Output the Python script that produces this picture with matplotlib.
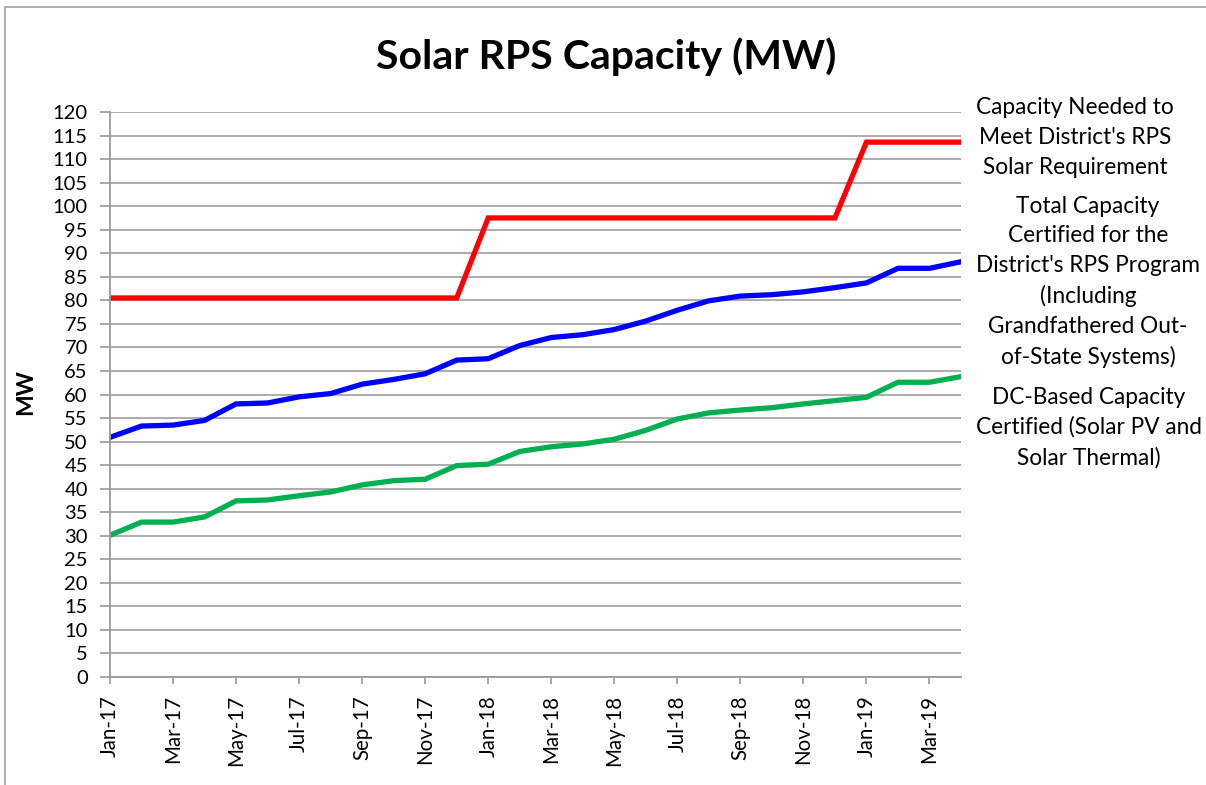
import matplotlib
matplotlib.use("Agg")
import matplotlib.pyplot as plt
from matplotlib.patches import Rectangle

plt.rcParams['font.family'] = ['Lato', 'DejaVu Sans']

months = ["Jan-17", "Feb-17", "Mar-17", "Apr-17", "May-17", "Jun-17", "Jul-17", "Aug-17",
          "Sep-17", "Oct-17", "Nov-17", "Dec-17", "Jan-18", "Feb-18", "Mar-18", "Apr-18",
          "May-18", "Jun-18", "Jul-18", "Aug-18", "Sep-18", "Oct-18", "Nov-18", "Dec-18",
          "Jan-19", "Feb-19", "Mar-19", "Apr-19"]

needed = [80.5, 80.5, 80.5, 80.5, 80.5, 80.5, 80.5, 80.5, 80.5, 80.5, 80.5, 80.5,
          97.5, 97.5, 97.5, 97.5, 97.5, 97.5, 97.5, 97.5, 97.5, 97.5, 97.5, 97.5,
          113.6, 113.6, 113.6, 113.6]

total = [50.9, 53.3, 53.5, 54.5, 58.0, 58.2, 59.5, 60.2, 62.2, 63.2, 64.4, 67.3,
         67.6, 70.4, 72.1, 72.7, 73.8, 75.6, 77.9, 79.9, 80.9, 81.2, 81.8, 82.7,
         83.7, 86.8, 86.8, 88.2]

dc_based = [30.1, 32.9, 32.9, 34.0, 37.4, 37.6, 38.5, 39.3, 40.8, 41.7, 42.0, 44.9,
            45.2, 47.9, 48.9, 49.5, 50.5, 52.4, 54.8, 56.1, 56.7, 57.2, 58.0, 58.7,
            59.4, 62.6, 62.6, 63.8]

labels = ["Capacity Needed to\nMeet District's RPS\nSolar Requirement",
          "Total Capacity\nCertified for the\nDistrict's RPS Program\n(Including\nGrandfathered Out-\nof-State Systems)",
          "DC-Based Capacity\nCertified (Solar PV and\nSolar Thermal)"]

colors = ["#FF0000", "#0000FF", "#00B050"]

W, H = 1206, 785
fig = plt.figure(figsize=(W / 100, H / 100), dpi=100)
ax = fig.add_axes([110 / W, 1 - 677 / H, (961 - 110) / W, (677 - 112) / H])

x = list(range(len(months)))
handles = []
for series, c, lab in zip([needed, total, dc_based], colors, labels):
    h, = ax.plot(x, series, color=c, lw=3.8, label=lab, solid_joinstyle='miter')
    handles.append(h)

ax.set_xlim(0, len(months) - 1)
ax.set_ylim(0, 120)
ax.set_yticks(range(0, 121, 5))
ax.set_xticks(x[::2])
ax.set_xticklabels(months[::2], rotation=90, fontsize=14.8)
ax.tick_params(axis='y', labelsize=14.5, length=7, color='#9a9a9a', width=1.2, pad=9)
ax.tick_params(axis='x', length=5, color='#9a9a9a', width=1.2, pad=8)
ax.grid(axis='y', color='#a6a6a6', lw=1.3)
ax.set_axisbelow(True)
for s in ['top', 'right']:
    ax.spines[s].set_visible(False)
for s in ['left', 'bottom']:
    ax.spines[s].set_color('#9a9a9a')
    ax.spines[s].set_linewidth(1.3)

ax.set_ylabel("MW", fontsize=16.5, fontweight='bold')
ax.yaxis.set_label_coords(-0.087, 0.505)

fig.suptitle("Solar RPS Capacity (MW)", x=0.503, y=1 - 37 / H, va='top',
             fontsize=29.5, fontweight='bold')

leg = fig.legend(handles, labels, loc='upper center', bbox_to_anchor=(1089 / W, 1 - 86 / H),
                 frameon=False, handlelength=0, handletextpad=0, fontsize=16.3,
                 labelspacing=0.8, borderpad=0)
for t in leg.get_texts():
    t.set_multialignment('center')
    t.set_linespacing(1.51)
for lh in leg.legend_handles:
    lh.set_visible(False)

fig.patches.append(Rectangle((5 / W, -0.05), 1.05, 1 - 7 / H + 0.05, transform=fig.transFigure,
                             fill=False, edgecolor='#a0a0a0', lw=1.2))

fig.savefig("out.png", dpi=100)
